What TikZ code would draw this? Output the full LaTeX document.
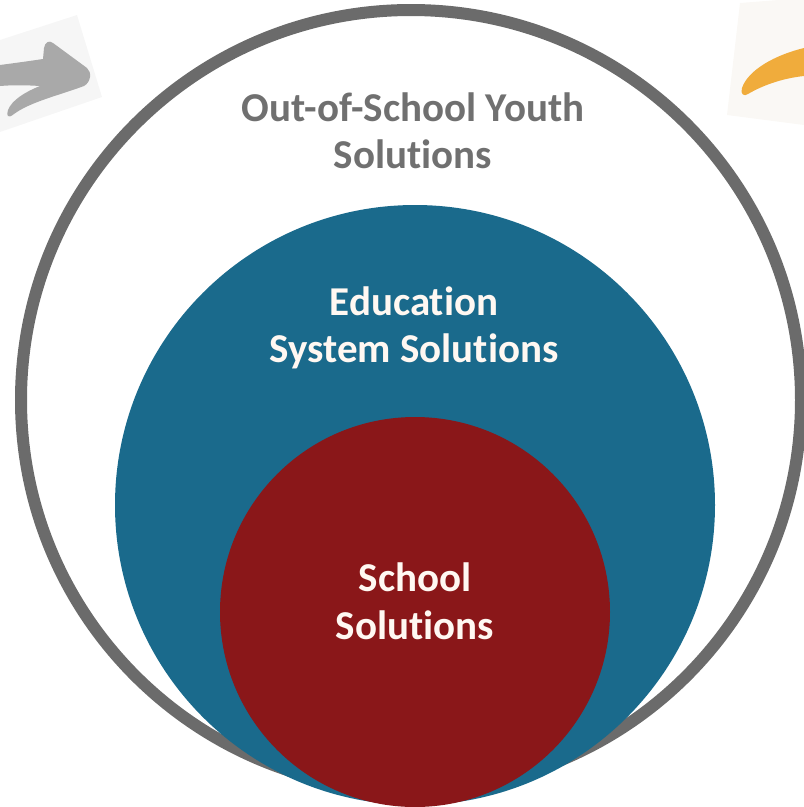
\documentclass[tikz,border=0pt]{standalone}
\usepackage{fontspec}
\setmainfont{Carlito}[Ligatures={NoCommon,NoRare,NoContextual}]
\definecolor{ringgray}{HTML}{6B6B6B}
\definecolor{textgray}{HTML}{707070}
\definecolor{edublue}{HTML}{1A6A8C}
\definecolor{schoolred}{HTML}{8A1719}
\definecolor{arrowgray}{HTML}{A9A9A9}
\definecolor{swoosh}{HTML}{F0AC3C}
\definecolor{bgfaint}{HTML}{F6F6F6}
\definecolor{bgwarm}{HTML}{FAF8F5}
\definecolor{labelwhite}{HTML}{FFF8F2}
\tikzset{
  lbl/.style={anchor=base, inner sep=0pt, font=\bfseries\fontsize{41}{49}\selectfont},
  graylbl/.style={lbl, text=textgray},
  whitelbl/.style={lbl, text=labelwhite}
}
\begin{document}
\begin{tikzpicture}[x=1pt,y=-1pt]
\useasboundingbox (0,0) rectangle (804,807);
\clip (0,0) rectangle (804,807);
% faint backgrounds of the decorative arrows
\fill[bgfaint] (0,40) -- (77,15) -- (102,97) -- (0,132) -- cycle;
\fill[bgwarm] (740,3) -- (804,-2) -- (804,125) -- (727,115) -- cycle;
% gray arrow (top left)
\fill[arrowgray] (0,65) .. controls (15,63) and (30,61) .. (43,59)
  -- (44,48) .. controls (45,42) and (49,40) .. (53,43)
  -- (87,68) .. controls (92,72) and (91,82) .. (84,86)
  .. controls (60,95) and (30,102) .. (14,114)
  .. controls (8,119) and (6,116) .. (8,110)
  .. controls (12,100) and (25,92) .. (40,86)
  .. controls (25,85) and (12,85) .. (0,86) -- cycle;
% orange swoosh (top right)
\fill[swoosh] (804,48) .. controls (775,55) and (748,70) .. (742,88)
  .. controls (740,94) and (744,97) .. (748,94)
  .. controls (765,84) and (785,78) .. (804,76) -- cycle;
% circles
\draw[ringgray, line width=12pt] (411,400) circle[radius=390];
\fill[edublue] (415,505) circle[radius=300];
\fill[schoolred] (415,612) circle[radius=195];
% labels
\node[graylbl] (osy1) at (413,121) {Out-of-School Youth};
\node[graylbl] (osy2) at (413,168) {Solutions};
\node[whitelbl] (edu1) at (414,315) {Education};
\node[whitelbl] (edu2) at (414,362) {System Solutions};
\node[whitelbl] (sch1) at (415,591) {School};
\node[whitelbl] (sch2) at (415,639) {Solutions};
\end{tikzpicture}
\end{document}
